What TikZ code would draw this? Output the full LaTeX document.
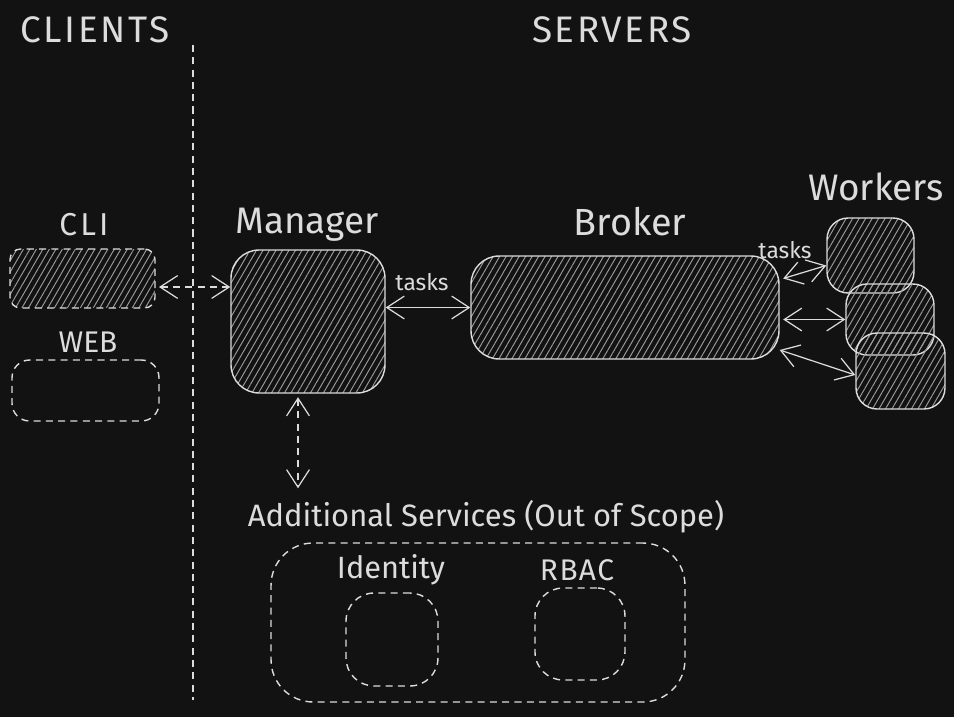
\documentclass[tikz,border=0pt]{standalone}
\usepackage{fontspec}
\setmainfont{Fira Sans}
\usetikzlibrary{patterns.meta}
\usetikzlibrary{arrows.meta}
\definecolor{bgdark}{HTML}{121212}
\definecolor{inkgray}{HTML}{DCDCDC}
\definecolor{hatchgray}{HTML}{9A9A9A}
\newcommand{\widecaps}[2]{{\addfontfeatures{LetterSpace=#1}#2}}
\tikzset{
    hatch box/.style={
        draw=inkgray, line width=0.8pt, rounded corners=#1, inner sep=0pt,
        pattern={Lines[angle=60,distance=3.2pt,line width=0.55pt]},
        pattern color=hatchgray
    },
    hatch box/.default=8pt,
    dash box/.style={
        draw=inkgray, line width=0.8pt, rounded corners=#1, inner sep=0pt,
        dash pattern=on 4pt off 3pt
    },
    dash box/.default=10pt,
    ink text/.style={text=inkgray, inner sep=0pt, font=\fontsize{#1}{#1}\selectfont},
    ink text/.default=16,
    link/.style={draw=inkgray, line width=0.7pt,
        {Straight Barb[length=10pt,width=13pt]}-{Straight Barb[length=10pt,width=13pt]}},
    dash link/.style={link, dash pattern=on 4pt off 3pt},
}

\begin{document}
\begin{tikzpicture}[x=0.02cm,y=-0.02cm]
\fill[bgdark] (0,0) rectangle (954,717);
% headings and the dividing line
\node[ink text=21] (clients) at (95,30) {\widecaps{7}{CLIENTS}};
\node[ink text=21] (servers) at (612,30) {\widecaps{7}{SERVERS}};
\draw[inkgray, line width=0.7pt, dash pattern=on 4pt off 3pt] (193,45) -- (193,700);
% clients
\node[ink text=18] (clilabel) at (84,225) {\widecaps{10}{CLI}};
\node[hatch box=6pt, dash pattern=on 4pt off 3pt, minimum width=2.9cm, minimum height=1.18cm] (cli) at (82.5,278.5) {};
\node[ink text=17] (weblabel) at (88,342) {WEB};
\node[dash box=10pt, minimum width=2.94cm, minimum height=1.22cm] (web) at (85.5,390.5) {};
% servers
\node[ink text=21] (managerlabel) at (307,225) {Manager};
\node[hatch box=16pt, minimum width=3.08cm, minimum height=2.86cm] (manager) at (308,321.5) {};
\node[ink text=21.5] (brokerlabel) at (630,222) {Broker};
\node[hatch box=16pt, minimum width=6.16cm, minimum height=2.06cm] (broker) at (625,307.5) {};
\node[ink text=21] (workerslabel) at (876,187) {Workers};
\node[hatch box=12pt, minimum width=1.74cm, minimum height=1.5cm] (worker1) at (870.5,255.5) {};
\node[hatch box=12pt, minimum width=1.76cm, minimum height=1.42cm] (worker2) at (890,319.5) {};
\node[hatch box=12pt, minimum width=1.78cm, minimum height=1.52cm] (worker3) at (900.5,371) {};
% additional services
\node[ink text=17.6] (extralabel) at (486,517) {Additional Services (Out of Scope)};
\node[dash box=24pt, minimum width=8.28cm, minimum height=3.18cm] (extra) at (478,622.5) {};
\node[ink text=17.5] (identitylabel) at (391,570) {Identity};
\node[dash box=16pt, minimum width=1.84cm, minimum height=1.86cm] (identity) at (392,639.5) {};
\node[ink text=17] (rbaclabel) at (577,570) {\widecaps{5}{RBAC}};
\node[dash box=16pt, minimum width=1.8cm, minimum height=1.84cm] (rbac) at (580,634) {};
% connections
\draw[dash link] ([xshift=2pt,yshift=-0.17cm]cli.east) -- ([yshift=-0.17cm]cli.east -| manager.west);
\node[ink text=13] (tasksone) at (422,282) {tasks};
\draw[link] (broker.west -| manager.east) -- (broker.west);
\draw[dash link] ([xshift=-0.2cm,yshift=-2pt]manager.south) -- ([xshift=-0.2cm,yshift=0.24cm]manager.south |- extralabel.north);
\node[ink text=13] (taskstwo) at (785,250) {tasks};
\draw[link] ([xshift=2pt,yshift=0.58cm]broker.east) -- ([yshift=-0.2cm]worker1.west);
\draw[link] ([xshift=2pt]worker2.west -| broker.east) -- (worker2.west);
\draw[link] ([yshift=-0.85cm]broker.east) -- ([yshift=-0.08cm]worker3.west);
\end{tikzpicture}
\end{document}
